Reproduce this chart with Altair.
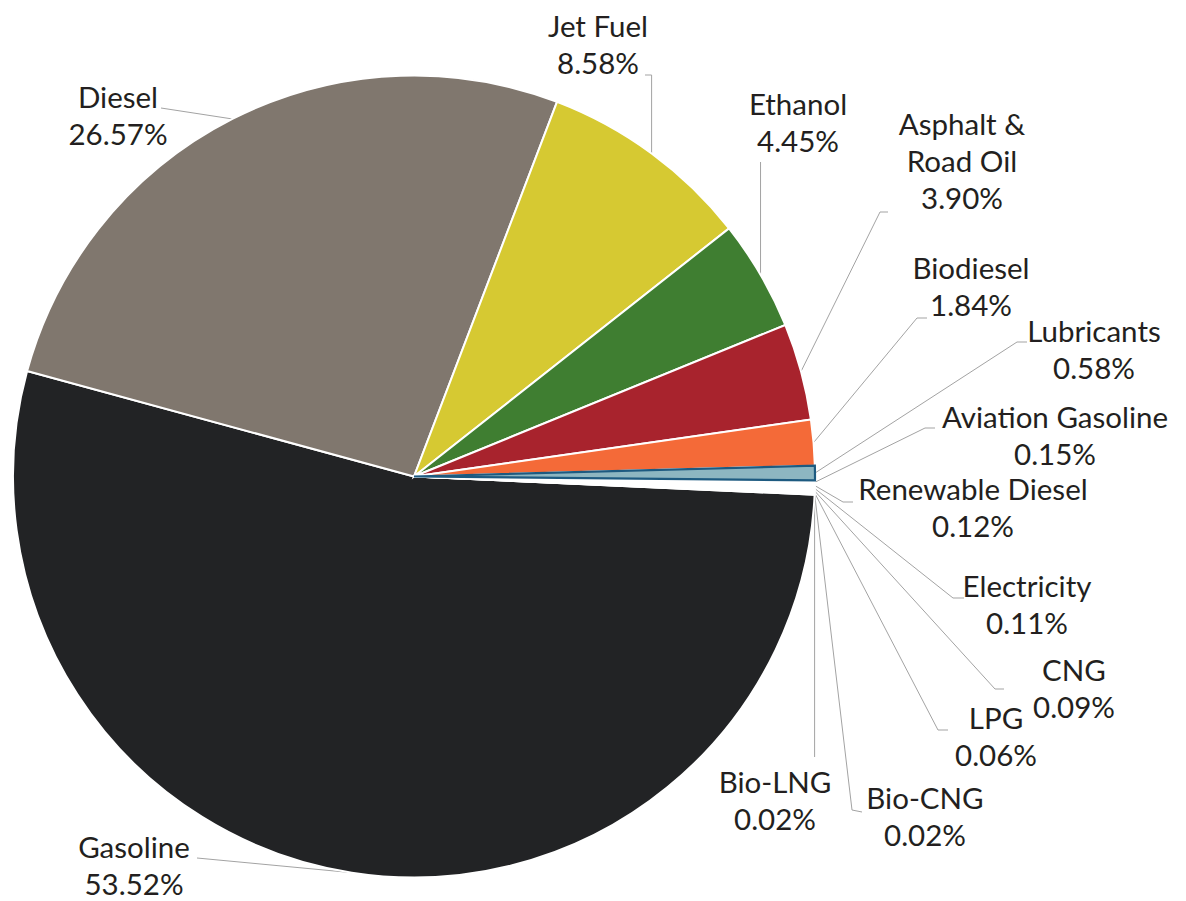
import math
import altair as alt
import pandas as pd

# ---- data ----
fuels = ["Gasoline", "Diesel", "Jet Fuel", "Ethanol", "Asphalt &\nRoad Oil", "Biodiesel",
         "Lubricants", "Aviation Gasoline", "Renewable Diesel", "Electricity", "CNG",
         "LPG", "Bio-CNG", "Bio-LNG"]
shares = [53.52, 26.57, 8.58, 4.45, 3.90, 1.84, 0.58, 0.15, 0.12, 0.11, 0.09, 0.06, 0.02, 0.02]
colors = ["#222325", "#80776e", "#d6c932", "#3f7e31", "#a8232d", "#f46a38",
          "#8db6c1", "#ffffff", "#ffffff", "#ffffff", "#ffffff", "#ffffff", "#ffffff", "#ffffff"]

# ---- layout (pixels, relative to page) ----
W, H = 1170, 893
CX, CY = 414, 476.5          # pie centre on the page
R = 401
START_DEG = 92.6             # where the first slice starts (clockwise from 12 o'clock)
LINE_H = 37

# label block centres (page px); first text line is drawn half a block above
label_xy = {
    "Gasoline": (134, 867), "Diesel": (118, 117), "Jet Fuel": (598, 46),
    "Ethanol": (798, 124), "Asphalt &\nRoad Oil": (962, 163), "Biodiesel": (971, 288),
    "Lubricants": (1094, 351), "Aviation Gasoline": (1055, 437),
    "Renewable Diesel": (973, 509), "Electricity": (1027, 606), "CNG": (1074, 690),
    "LPG": (996, 738), "Bio-CNG": (925, 818), "Bio-LNG": (775, 802),
}
# leader polylines after the rim point (page px)
leader_pts = {
    "Gasoline": [(197, 858)],
    "Diesel": [(161, 108)],
    "Jet Fuel": [(None, 75), (645, 75)],
    "Ethanol": [(None, 162)],
    "Asphalt &\nRoad Oil": [(880, 212), (888, 212)],
    "Biodiesel": [(917, 318), (927, 318)],
    "Lubricants": [(1017, 342), (1027, 342)],
    "Aviation Gasoline": [(925, 428), (935, 428)],
    "Renewable Diesel": [(843, 502), (853, 502)],
    "Electricity": [(953, 598), (964, 598)],
    "CNG": [(995, 689), (1004, 689)],
    "LPG": [(938, 730), (948, 730)],
    "Bio-CNG": [(852, 810), (862, 812)],
    "Bio-LNG": [(None, 757)],
}

# ---- tables ----
total = sum(shares)
rows = []
cum = 0.0
for i, (f, s) in enumerate(zip(fuels, shares)):
    rows.append({"fuel": f, "share": s, "start": cum, "end": cum + s, "idx": i,
                 "label": f"{f}\n{s:.2f}%"})
    cum += s
slices = pd.DataFrame(rows)

label_rows, line_rows = [], []
for r in rows:
    bx, by = label_xy[r["fuel"]]
    n_lines = r["label"].count("\n") + 1
    first_y = by - (n_lines - 1) * LINE_H / 2
    label_rows.append({"fuel": r["fuel"], "label": r["label"], "x": bx - CX, "y": first_y - CY})
    mid = math.radians(START_DEG + 360.0 * (r["start"] + r["share"] / 2) / total)
    rx, ry = R * math.sin(mid), -R * math.cos(mid)
    line_rows.append({"fuel": r["fuel"], "o": 0, "x": rx, "y": ry})
    for k, (px, py) in enumerate(leader_pts[r["fuel"]]):
        xx = rx if px is None else px - CX
        line_rows.append({"fuel": r["fuel"], "o": k + 1, "x": xx, "y": py - CY})
labels = pd.DataFrame(label_rows)
lines = pd.DataFrame(line_rows)

xscale = alt.Scale(domain=[8 - CX, 8 + W - CX], nice=False, zero=False)
yscale = alt.Scale(domain=[8 - CY, 8 + H - CY], nice=False, zero=False, reverse=True)
t0 = math.radians(START_DEG)
tscale = alt.Scale(domain=[0, total], range=[t0, t0 + 2 * math.pi])
cscale = alt.Scale(domain=fuels, range=colors)

base_arc = alt.Chart(slices).mark_arc(radius=R, stroke="white", strokeWidth=2).encode(
    theta=alt.Theta("start:Q", scale=tscale),
    theta2="end:Q",
    x=alt.datum(0, scale=xscale, axis=None),
    y=alt.datum(0, scale=yscale, axis=None),
    color=alt.Color("fuel:N", scale=cscale, legend=None),
    order="idx:Q",
)
lub_arc = alt.Chart(slices).transform_filter(alt.datum.fuel == "Lubricants").mark_arc(
    radius=R, stroke="#1d5a80", strokeWidth=2.2, strokeJoin="miter"
).encode(
    theta=alt.Theta("start:Q", scale=tscale),
    theta2="end:Q",
    x=alt.datum(0, scale=xscale, axis=None),
    y=alt.datum(0, scale=yscale, axis=None),
    color=alt.Color("fuel:N", scale=cscale, legend=None),
)

leaders = alt.Chart(lines).mark_line(color="#a3a3a3", strokeWidth=1).encode(
    x=alt.X("x:Q", scale=xscale, axis=None),
    y=alt.Y("y:Q", scale=yscale, axis=None),
    detail="fuel:N",
    order="o:Q",
)

texts = alt.Chart(labels).mark_text(
    font="Lato", fontSize=29.5, color="#231f20", align="center", baseline="middle",
    lineBreak="\n", lineHeight=LINE_H,
).encode(
    x=alt.X("x:Q", scale=xscale, axis=None),
    y=alt.Y("y:Q", scale=yscale, axis=None),
    text="label:N",
)

chart = alt.layer(leaders, base_arc, lub_arc, texts).properties(
    width=W, height=H, autosize=alt.AutoSizeParams(type="none"), padding=0
).configure_view(stroke=None)

chart.save("out.html", embed_options={"renderer": "svg", "actions": False})
